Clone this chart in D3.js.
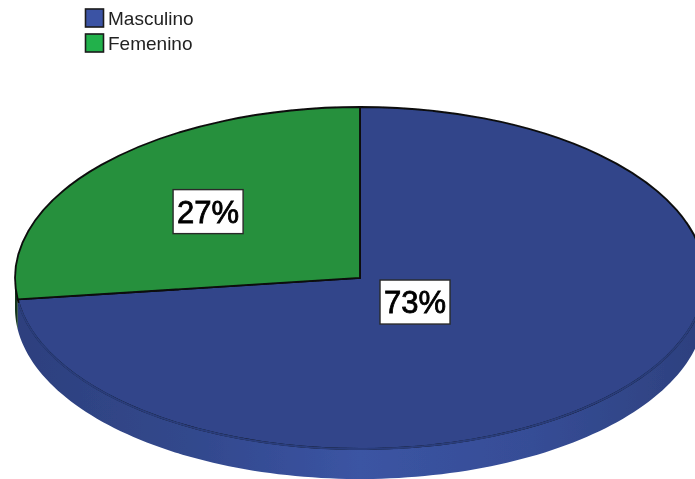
<!DOCTYPE html>
<html>
<head>
<meta charset="utf-8">
<script src="https://cdn.jsdelivr.net/npm/d3@7"></script>
<style>
html, body { margin: 0; background: #fff; overflow: hidden; }
text { font-family: "Liberation Sans", Arial, sans-serif; }
</style>
</head>
<body>
<div id="chart"></div>
<script>
var categories = ["Masculino", "Femenino"];
var percents = [73, 27];

var wt = 695;
var ht = 479;
var cx = 360;
var cy = 278;
var rx = 345;
var ry = 171;
var depth = 30;

var topColors = d3.scaleOrdinal().domain(categories).range(["#30458a", "#26903c"]);
var legendColors = d3.scaleOrdinal().domain(categories).range(["#3a53a4", "#22b14c"]);
var sideColors = d3.scaleOrdinal().domain(categories).range(["url(#sideBlue)", "#12351b"]);

var svg = d3.select("#chart").append("svg")
    .attr("width", wt)
    .attr("height", ht)
    .style("display", "block");

var defs = svg.append("defs");
defs.append("filter").attr("id", "soft")
    .attr("x", "-5%").attr("y", "-5%").attr("width", "110%").attr("height", "110%")
    .append("feGaussianBlur").attr("stdDeviation", 0.6);

var grad = defs.append("linearGradient")
    .attr("id", "sideBlue")
    .attr("gradientUnits", "userSpaceOnUse")
    .attr("x1", cx - rx).attr("x2", cx + rx)
    .attr("y1", 0).attr("y2", 0);
[[0, "#2d407e"], [0.25, "#32488c"], [0.5, "#3b54a3"], [0.75, "#364d96"], [1, "#2d407e"]].forEach(function (s) {
    grad.append("stop").attr("offset", s[0]).attr("stop-color", s[1]);
});

var rows = categories.map(function (c, i) {
    return { name: c, value: percents[i] };
});

var pie = d3.pie()
    .sort(null)
    .value(function (d) { return d.value; });
var slices = pie(rows);

// pie angles run clockwise from the top, same as the ellipse below
var ex = d3.scaleLinear().domain([-1, 1]).range([cx - rx, cx + rx]);
var ey = d3.scaleLinear().domain([-1, 1]).range([cy - ry, cy + ry]);

function rimPoint(a, drop) {
    return [ex(Math.sin(a)), ey(-Math.cos(a)) + drop];
}

// side wall of a slice, only the part on the near half of the disc
function sidePath(d) {
    var a0 = Math.max(d.startAngle, Math.PI / 2);
    var a1 = Math.min(d.endAngle, 3 * Math.PI / 2);
    if (a1 <= a0) return null;
    var n = 120;
    var pts = d3.range(n + 1).map(function (i) {
        return a0 + (a1 - a0) * i / n;
    });
    var front = pts.map(function (a) { return rimPoint(a, 0); });
    var back = pts.slice().reverse().map(function (a) { return rimPoint(a, depth); });
    return d3.line()(front.concat(back)) + "Z";
}

var arc = d3.arc().innerRadius(0).outerRadius(1);

var art = svg.append("g").attr("filter", "url(#soft)");

art.selectAll("path.side")
    .data(slices)
    .enter().append("path")
    .attr("class", "side")
    .attr("d", sidePath)
    .attr("fill", function (d) { return sideColors(d.data.name); });

art.append("g")
    .attr("transform", "translate(" + cx + "," + cy + ") scale(" + rx + "," + ry + ")")
    .selectAll("path.top")
    .data(slices)
    .enter().append("path")
    .attr("class", "top")
    .attr("d", arc)
    .attr("fill", function (d) { return topColors(d.data.name); })
    .attr("stroke", "#0c0c0c")
    .attr("stroke-width", 1.8)
    .attr("vector-effect", "non-scaling-stroke");

// blue slice has no black rim along the near edge
art.append("path")
    .datum(slices[0])
    .attr("d", function (d) {
        var pts = d3.range(121).map(function (i) {
            return rimPoint(Math.PI * 0.55 + (d.endAngle - 0.02 - Math.PI * 0.55) * i / 120, 0);
        });
        return d3.line()(pts);
    })
    .attr("fill", "none")
    .attr("stroke", "#2b3e7b")
    .attr("stroke-width", 2);

// value labels, placed along each slice's mid angle
var labelReach = { Masculino: 0.2126, Femenino: 0.587 };
var labels = art.selectAll("g.label")
    .data(slices)
    .enter().append("g")
    .attr("class", "label")
    .attr("transform", function (d) {
        var mid = (d.startAngle + d.endAngle) / 2;
        var r = labelReach[d.data.name];
        return "translate(" + ex(r * Math.sin(mid)) + "," + ey(-r * Math.cos(mid)) + ")";
    });
labels.append("rect")
    .attr("x", -35).attr("y", -22)
    .attr("width", 70).attr("height", 44)
    .attr("fill", "#fff")
    .attr("stroke", "#2a2a2a")
    .attr("stroke-width", 1.4);
labels.append("text")
    .attr("text-anchor", "middle")
    .attr("dy", "0.36em")
    .attr("font-size", 31)
    .attr("fill", "#000")
    .attr("stroke", "#000")
    .attr("stroke-width", 0.8)
    .text(function (d) { return d.data.value + "%"; });

// legend
var legendY = d3.scalePoint().domain(categories).range([18, 43]);
var legend = art.selectAll("g.legend")
    .data(categories)
    .enter().append("g")
    .attr("class", "legend")
    .attr("transform", function (d) { return "translate(85," + legendY(d) + ")"; });
legend.append("rect")
    .attr("x", 0.5).attr("y", -9)
    .attr("width", 18).attr("height", 18)
    .attr("fill", function (d) { return legendColors(d); })
    .attr("stroke", "#1c1c1c")
    .attr("stroke-width", 1.6);
legend.append("text")
    .attr("x", 23)
    .attr("dy", "0.36em")
    .attr("font-size", 19)
    .attr("fill", "#222")
    .text(function (d) { return d; });
</script>
</body>
</html>
